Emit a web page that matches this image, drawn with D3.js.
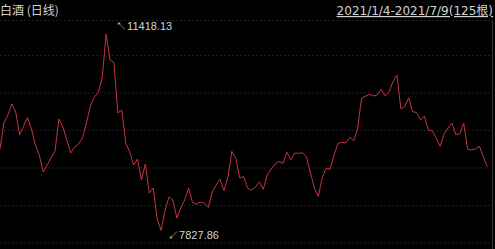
<!DOCTYPE html>
<html lang="zh">
<head>
    <meta charset="UTF-8">
    <title>白酒 (日线)</title>
    <script src="https://cdn.jsdelivr.net/npm/d3@7"></script>
    <style>
        html, body { margin: 0; padding: 0; background: #000; }
        svg { display: block; }
    </style>
</head>
<body>
<div id="container"></div>
<script>
    // chart data (125 daily closes, 2021/1/4 - 2021/7/9)
    const titleText = "白酒 (日线)";
    const rangeText = "2021/1/4-2021/7/9(125根)";
    const closes = [
        9318, 9794, 9940, 10141, 9995, 9574, 9739, 9894, 9684, 9391,
        9209, 8898, 9026, 9154, 9282, 9867, 9721, 9483, 9245, 9355,
        9410, 9520, 9794, 10105, 10269, 10352, 10617, 11418.13, 10946, 10900,
        9977, 10032, 9428, 9263, 9026, 9135, 8751, 9044, 8514, 8605,
        8038, 7827.86, 8203, 8440, 8386, 8056, 8239, 8386, 8605, 8340,
        8312, 8349, 8331, 8248, 8532, 8660, 8764, 8559, 8806, 9276,
        9148, 8788, 8819, 8600, 8568, 8623, 8720, 8581, 8843, 8953,
        9044, 9090, 9057, 9258, 9126, 9245, 9240, 9250, 9172, 8879,
        8605, 8450, 8797, 8965, 8947, 9209, 9423, 9437, 9430, 9532,
        9468, 9684, 10251, 10284, 10319, 10288, 10306, 10412, 10291, 10366,
        10549, 10672, 10054, 10092, 10257, 10001, 9986, 9849, 9918, 9666,
        9648, 9520, 9368, 9593, 9702, 9794, 9580, 9598, 9790, 9315,
        9300, 9318, 9368, 9172, 8995
    ];

    const width = 495, height = 249;
    const svg = d3.select("#container")
        .append("svg")
        .attr("width", width)
        .attr("height", height)
        .style("background", "#000");

    // scales
    const xScale = d3.scaleLinear().domain([0, closes.length - 1]).range([0, 487.3]);
    const yScale = d3.scaleLinear().domain(d3.extent(closes)).range([230.5, 34.2]);

    // dashed grid
    const gridY = [20, 55, 92.5, 130, 167.5, 205, 242.5];
    svg.append("g")
        .selectAll("line")
        .data(gridY)
        .join("line")
        .attr("x1", 0)
        .attr("x2", 492)
        .attr("y1", d => d + 0.5)
        .attr("y2", d => d + 0.5)
        .attr("stroke", "#202020")
        .attr("stroke-dasharray", "2,2");

    // right border
    svg.append("line")
        .attr("x1", 492.5).attr("x2", 492.5)
        .attr("y1", 20).attr("y2", height)
        .attr("stroke", "#383838");

    // header
    svg.append("text")
        .attr("x", 0)
        .attr("y", 15)
        .attr("fill", "#d2d2d2")
        .style("font", "12px 'Noto Sans CJK SC', sans-serif")
        .text(titleText);

    svg.append("text")
        .attr("x", 493)
        .attr("y", 15)
        .attr("text-anchor", "end")
        .attr("fill", "#d2d2d2")
        .style("font", "12px 'DejaVu Sans', 'Noto Sans CJK SC', sans-serif")
        .style("text-decoration", "underline")
        .text(rangeText);

    // price line
    const lineGen = d3.line()
        .x((d, i) => xScale(i))
        .y(d => yScale(d));

    svg.append("path")
        .datum(closes)
        .attr("d", lineGen)
        .attr("fill", "none")
        .attr("stroke", "#c4343e")
        .attr("stroke-width", 1);

    // max / min marks
    const maxIdx = d3.maxIndex(closes), minIdx = d3.minIndex(closes);
    svg.append("text")
        .attr("x", xScale(maxIdx) + 10)
        .attr("y", yScale(closes[maxIdx]) - 4)
        .attr("fill", "#d2d2d2")
        .style("font", "11px 'Liberation Sans', sans-serif")
        .text("↖" + closes[maxIdx].toFixed(2));

    svg.append("text")
        .attr("x", xScale(minIdx) + 7)
        .attr("y", yScale(closes[minIdx]) + 8.5)
        .attr("fill", "#d2d2d2")
        .style("font", "11px 'Liberation Sans', sans-serif")
        .text("↙" + closes[minIdx].toFixed(2));
</script>
</body>
</html>
